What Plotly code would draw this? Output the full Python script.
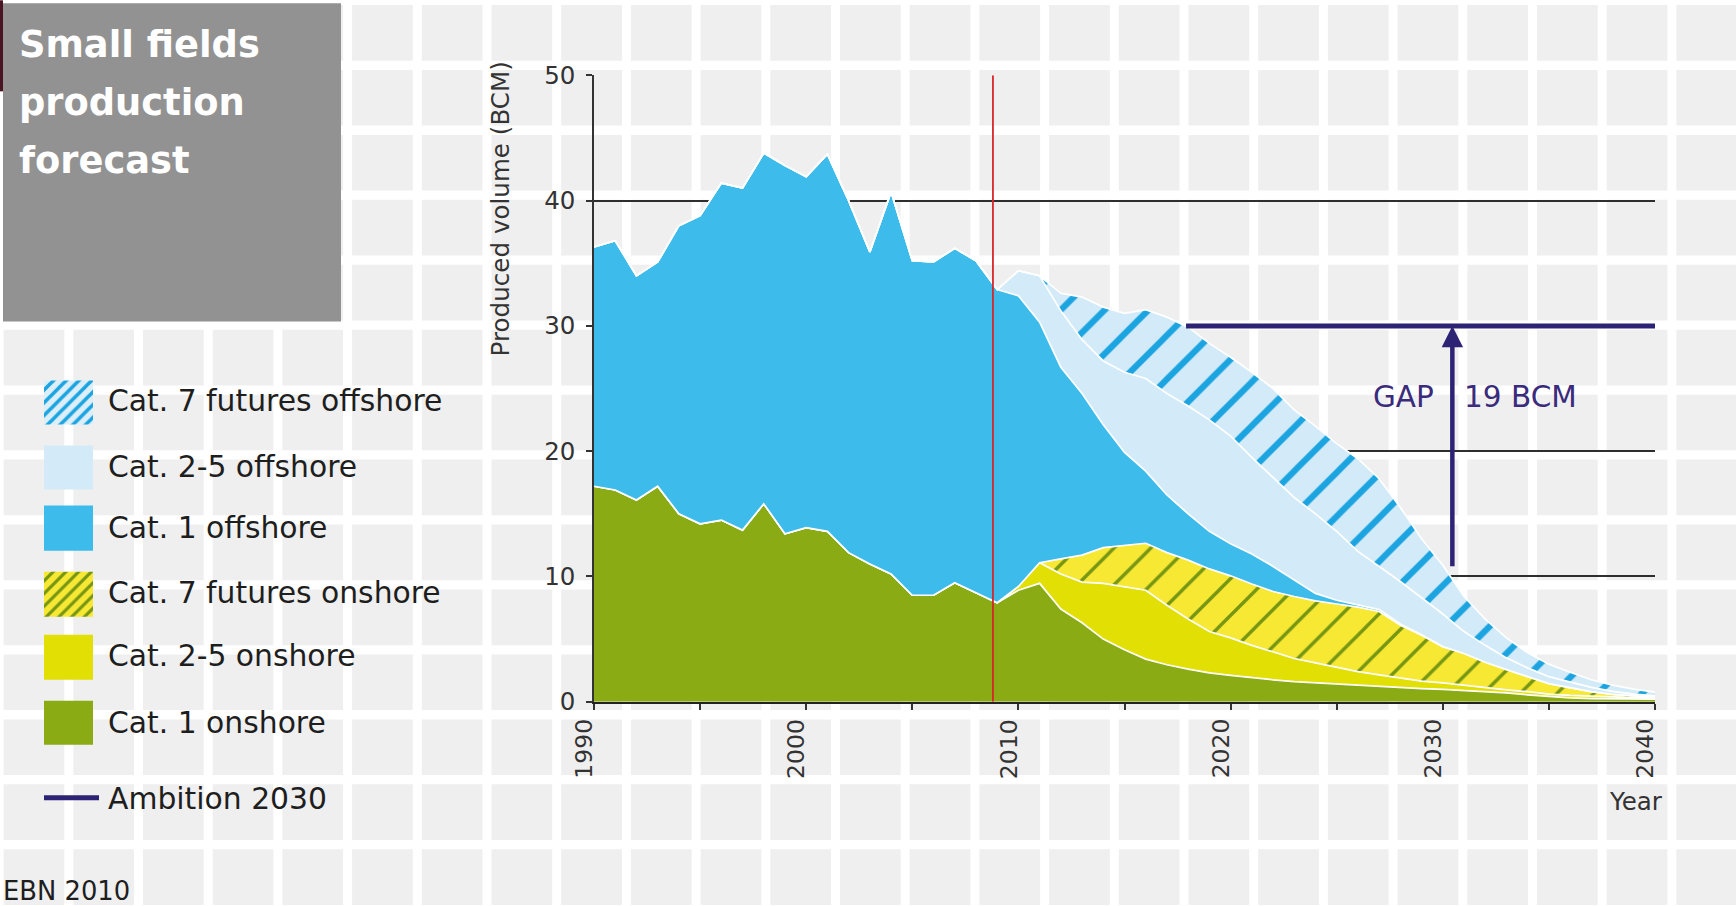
import plotly.graph_objects as go

W, H = 1736, 906

# The photographed picture comes out slightly squeezed vertically; vertical
# target positions (final-picture pixels) are mapped back to page pixels.
SY, TY = 0.9674, 13.7

# ---------------- data ----------------
years = list(range(1990, 2041))

cat1_onshore = [17.2, 16.9, 16.1, 17.2, 15.0, 14.2, 14.5, 13.7, 15.8, 13.4,
                13.9, 13.6, 11.9, 11.0, 10.2, 8.5, 8.5, 9.5, 8.7, 7.9,
                8.9, 9.45, 7.4, 6.3, 5.0, 4.15, 3.4, 2.95, 2.6, 2.3,
                2.1, 1.9, 1.75, 1.6, 1.5, 1.4, 1.32, 1.25, 1.15, 1.05,
                0.98, 0.9, 0.8, 0.7, 0.55, 0.4, 0.3, 0.25, 0.22, 0.2, 0.2]

cat25_onshore = [0] * 20 + [0.3, 1.65, 2.8, 3.25, 4.45, 5.05, 5.5, 4.75, 4.0, 3.3,
                            3.0, 2.6, 2.2, 1.85, 1.6, 1.35, 1.08, 0.9, 0.75, 0.6,
                            0.52, 0.4, 0.3, 0.25, 0.25, 0.2, 0.2, 0.17, 0.14, 0.12, 0.1]

cat7_onshore = [0] * 22 + [1.2, 2.15, 2.85, 3.3, 3.75, 4.2, 4.7, 5.0,
                           4.95, 4.9, 4.85, 4.95, 4.95, 5.05, 5.15, 5.05, 4.2, 3.65,
                           2.9, 2.55, 2.05, 1.6, 1.2, 0.85, 0.6, 0.38, 0.22, 0.14, 0.06]

cat1_offshore = [19.1, 19.9, 17.9, 17.9, 23.0, 24.6, 26.9, 27.3, 28.0, 29.4,
                 28.0, 30.1, 28.1, 24.9, 30.5, 26.7, 26.6, 26.7, 26.5, 25.0,
                 23.2, 19.2, 15.3, 12.9, 9.8, 7.4, 5.75, 4.6, 3.7, 3.0,
                 2.55, 2.4, 2.0, 1.3, 0.6, 0.3, 0.2, 0.15, 0.1, 0.05,
                 0, 0, 0, 0, 0, 0, 0, 0, 0, 0, 0]

cat25_offshore = [0] * 20 + [2.0, 3.7, 4.5, 4.3, 5.1, 6.4, 7.4, 8.1, 8.6, 8.9,
                             8.6, 7.7, 7.1, 6.6, 6.35, 5.5, 4.25, 3.45, 3.4, 2.95,
                             2.6, 1.75, 1.35, 0.95, 0.7, 0.55, 0.45, 0.35, 0.25, 0.15, 0.1]

cat7_offshore = [0] * 22 + [1.4, 3.4, 4.3, 4.7, 5.5, 6.1, 6.3, 6.1,
                            6.3, 6.8, 7.1, 7.0, 7.0, 7.0, 7.4, 7.0, 5.9, 4.7,
                            3.9, 2.8, 2.1, 1.6, 1.2, 1.0, 0.8, 0.6, 0.5, 0.4, 0.3]

ambition_years = [2017.9, 2040]
ambition_level = 30
gap_year = 2030.45
gap_base = 10.7
forecast_start = 2008.8

y_ticks = [0, 10, 20, 30, 40, 50]
x_ticks = [1990, 2000, 2010, 2020, 2030, 2040]

legend_labels = ["Cat. 7 futures offshore", "Cat. 2-5 offshore", "Cat. 1 offshore",
                 "Cat. 7 futures onshore", "Cat. 2-5 onshore", "Cat. 1 onshore"]

# ---------------- styles ----------------
FONT = "DejaVu Sans"
GREEN = "#8aab14"
YELLOW = "#e2df04"
YELLOW_H = "#f7e834"
GREEN_H = "#769612"
BLUE = "#3dbcec"
LBLUE = "#d3ebf8"
BLUE_H = "#1ba4e0"
NAVY = "#2c2375"
TEXT = "#1e1e1e"

# plot area in final-picture pixels
PL, PR, PT, PB = 594, 1655, 75, 701


def Y(yf):
    return (yf - TY) / SY


def px(x):
    return x / W


def py(yf):
    return 1 - Y(yf) / H


fig = go.Figure()

series = [
    ("Cat. 1 onshore", cat1_onshore, GREEN, None),
    ("Cat. 2-5 onshore", cat25_onshore, YELLOW, None),
    ("Cat. 7 futures onshore", cat7_onshore, YELLOW_H,
     dict(shape="/", fgcolor=GREEN_H, bgcolor=YELLOW_H, size=26, solidity=0.13, fillmode="replace")),
    ("Cat. 1 offshore", cat1_offshore, BLUE, None),
    ("Cat. 2-5 offshore", cat25_offshore, LBLUE, None),
    ("Cat. 7 futures offshore", cat7_offshore, LBLUE,
     dict(shape="/", fgcolor=BLUE_H, bgcolor=LBLUE, size=31, solidity=0.2, fillmode="replace")),
]
for name, vals, col, pat in series:
    kw = dict(x=years, y=vals, name=name, mode="lines", stackgroup="one",
              line=dict(color="white", width=1.7), fillcolor=col, showlegend=False,
              xaxis="x", yaxis="y")
    if pat:
        kw["fillpattern"] = pat
    fig.add_trace(go.Scatter(**kw))

# ambition line
fig.add_trace(go.Scatter(x=ambition_years, y=[ambition_level] * 2, mode="lines",
                         line=dict(color=NAVY, width=5), showlegend=False,
                         xaxis="x", yaxis="y"))

# ---------------- legend swatches (pixel axes) ----------------
sw_x0, sw_x1 = 44, 93
sw_rows = [(380, 424), (445, 489), (505, 550), (571, 616), (634, 679), (700, 744)]
sw_styles = [
    (LBLUE, dict(shape="/", fgcolor=BLUE_H, bgcolor="#dceff9", size=9, solidity=0.4, fillmode="replace")),
    (LBLUE, None),
    (BLUE, None),
    (YELLOW_H, dict(shape="/", fgcolor=GREEN_H, bgcolor=YELLOW_H, size=9, solidity=0.35, fillmode="replace")),
    (YELLOW, None),
    (GREEN, None),
]
for (y0, y1), (col, pat) in zip(sw_rows, sw_styles):
    ya, yb = Y(y0), Y(y1)
    kw = dict(x=[sw_x0, sw_x1, sw_x1, sw_x0, sw_x0], y=[ya, ya, yb, yb, ya],
              mode="lines", fill="toself", fillcolor=col, line=dict(width=0, color=col),
              showlegend=False, xaxis="x2", yaxis="y2", hoverinfo="skip")
    if pat:
        kw["fillpattern"] = pat
    fig.add_trace(go.Scatter(**kw))

fig.add_trace(go.Scatter(x=[44, 99], y=[Y(797), Y(797)], mode="lines",
                         line=dict(color=NAVY, width=5), showlegend=False,
                         xaxis="x2", yaxis="y2", hoverinfo="skip"))

# ---------------- background tiles ----------------
shapes = []
for k in range(-8, 18):
    xv = 556.7 + 69.7 * k
    shapes.append(dict(type="line", xref="paper", yref="paper", x0=px(xv), x1=px(xv),
                       y0=-0.05, y1=1.05, line=dict(color="white", width=9), layer="below"))
for k in range(0, 15):
    yv = 0.1 + 64.9 * k
    shapes.append(dict(type="line", xref="paper", yref="paper", x0=-0.05, x1=1.05,
                       y0=py(yv), y1=py(yv), line=dict(color="white", width=9.3), layer="below"))
# title box
shapes.append(dict(type="rect", xref="paper", yref="paper", x0=px(3), x1=px(341),
                   y0=py(321), y1=py(3), fillcolor="#929292", line=dict(width=0), layer="below"))
shapes.append(dict(type="rect", xref="paper", yref="paper", x0=px(0), x1=px(3),
                   y0=py(91), y1=py(0), fillcolor="#4a1422", line=dict(width=0), layer="below"))
# red "now" line
shapes.append(dict(type="line", xref="x", yref="y", x0=forecast_start, x1=forecast_start,
                   y0=0, y1=50, line=dict(color="#d8262a", width=1.8), layer="above"))

# ---------------- annotations ----------------
ann = []
for t, yc in [("Small fields", 44.5), ("production", 102), ("forecast", 160)]:
    ann.append(dict(text="<b>%s</b>" % t, x=px(17), y=py(yc), xref="paper", yref="paper",
                    xanchor="left", yanchor="middle", showarrow=False,
                    font=dict(family=FONT, size=36.8, color="white")))
label_y = [400, 466, 527, 592, 655, 722]
for lab, yc in zip(legend_labels, label_y):
    ann.append(dict(text=lab, x=px(105.5), y=py(yc), xref="paper", yref="paper",
                    xanchor="left", yanchor="middle", showarrow=False,
                    font=dict(family=FONT, size=29.8, color=TEXT)))
ann.append(dict(text="Ambition 2030", x=px(105.5), y=py(798), xref="paper", yref="paper",
                xanchor="left", yanchor="middle", showarrow=False,
                font=dict(family=FONT, size=29.8, color=TEXT)))
ann.append(dict(text="EBN 2010", x=px(1), y=py(890), xref="paper", yref="paper",
                xanchor="left", yanchor="middle", showarrow=False,
                font=dict(family=FONT, size=25.8, color=TEXT)))
ann.append(dict(text="Produced volume (BCM)", x=px(500), y=py(208), xref="paper", yref="paper",
                xanchor="center", yanchor="middle", showarrow=False, textangle=-90,
                font=dict(family=FONT, size=24.6, color="#333333")))
ann.append(dict(text="Year", x=px(1636), y=py(801), xref="paper", yref="paper",
                xanchor="center", yanchor="middle", showarrow=False,
                font=dict(family=FONT, size=24.5, color="#333333")))
# x tick labels (rotated, sitting slightly left of their ticks)
for t in x_ticks:
    ann.append(dict(text=str(t), x=t, xref="x", y=py(716), yref="paper",
                    xanchor="center", yanchor="top", textangle=-90, xshift=-10,
                    showarrow=False, font=dict(family=FONT, size=23.5, color="#333")))
ann.append(dict(text="GAP", x=gap_year - 0.75, y=24.3, xref="x", yref="y",
                xanchor="right", yanchor="middle", showarrow=False,
                font=dict(family=FONT, size=29.5, color="#3a2b7c")))
ann.append(dict(text="19 BCM", x=gap_year + 0.45, y=24.3, xref="x", yref="y",
                xanchor="left", yanchor="middle", showarrow=False,
                font=dict(family=FONT, size=29.5, color="#3a2b7c")))
ann.append(dict(text="", x=gap_year, y=ambition_level, ax=gap_year, ay=gap_base,
                xref="x", yref="y", axref="x", ayref="y", showarrow=True,
                arrowhead=2, arrowsize=0.95, arrowwidth=4.5, arrowcolor=NAVY, standoff=0))

fig.update_layout(
    width=W, height=H, autosize=False,
    margin=dict(l=0, r=0, t=0, b=0),
    paper_bgcolor="#efefef", plot_bgcolor="rgba(0,0,0,0)",
    hovermode=False, showlegend=False,
    shapes=shapes, annotations=ann,
    xaxis=dict(domain=[px(PL), px(PR)], range=[1990, 2040], tickvals=x_ticks,
               showticklabels=False,
               ticks="outside", ticklen=6, tickwidth=1.5, tickcolor="#333",
               showline=True, linecolor="#222", linewidth=2,
               showgrid=False, zeroline=False,
               minor=dict(dtick=5, tick0=1990, ticks="outside", ticklen=6,
                          tickwidth=1.5, tickcolor="#333", showgrid=False),
               anchor="y", fixedrange=True),
    yaxis=dict(domain=[py(PB), py(PT)], range=[0, 50], tickvals=y_ticks,
               ticks="outside", ticklen=6, tickwidth=1.5, tickcolor="#333",
               showline=True, linecolor="#333", linewidth=1.5,
               showgrid=True, gridcolor="#2e2e2e", gridwidth=1.5, zeroline=False,
               ticklabelstandoff=6,
               tickfont=dict(family=FONT, size=24.5, color="#333"),
               anchor="x", fixedrange=True),
    xaxis2=dict(domain=[0, 1], range=[0, W], visible=False, anchor="y2", fixedrange=True),
    yaxis2=dict(domain=[0, 1], range=[H, 0], visible=False, anchor="x2", fixedrange=True),
)

fig.write_html("out.html", config={"displayModeBar": False},
               post_script="document.body.style.margin='0';")
